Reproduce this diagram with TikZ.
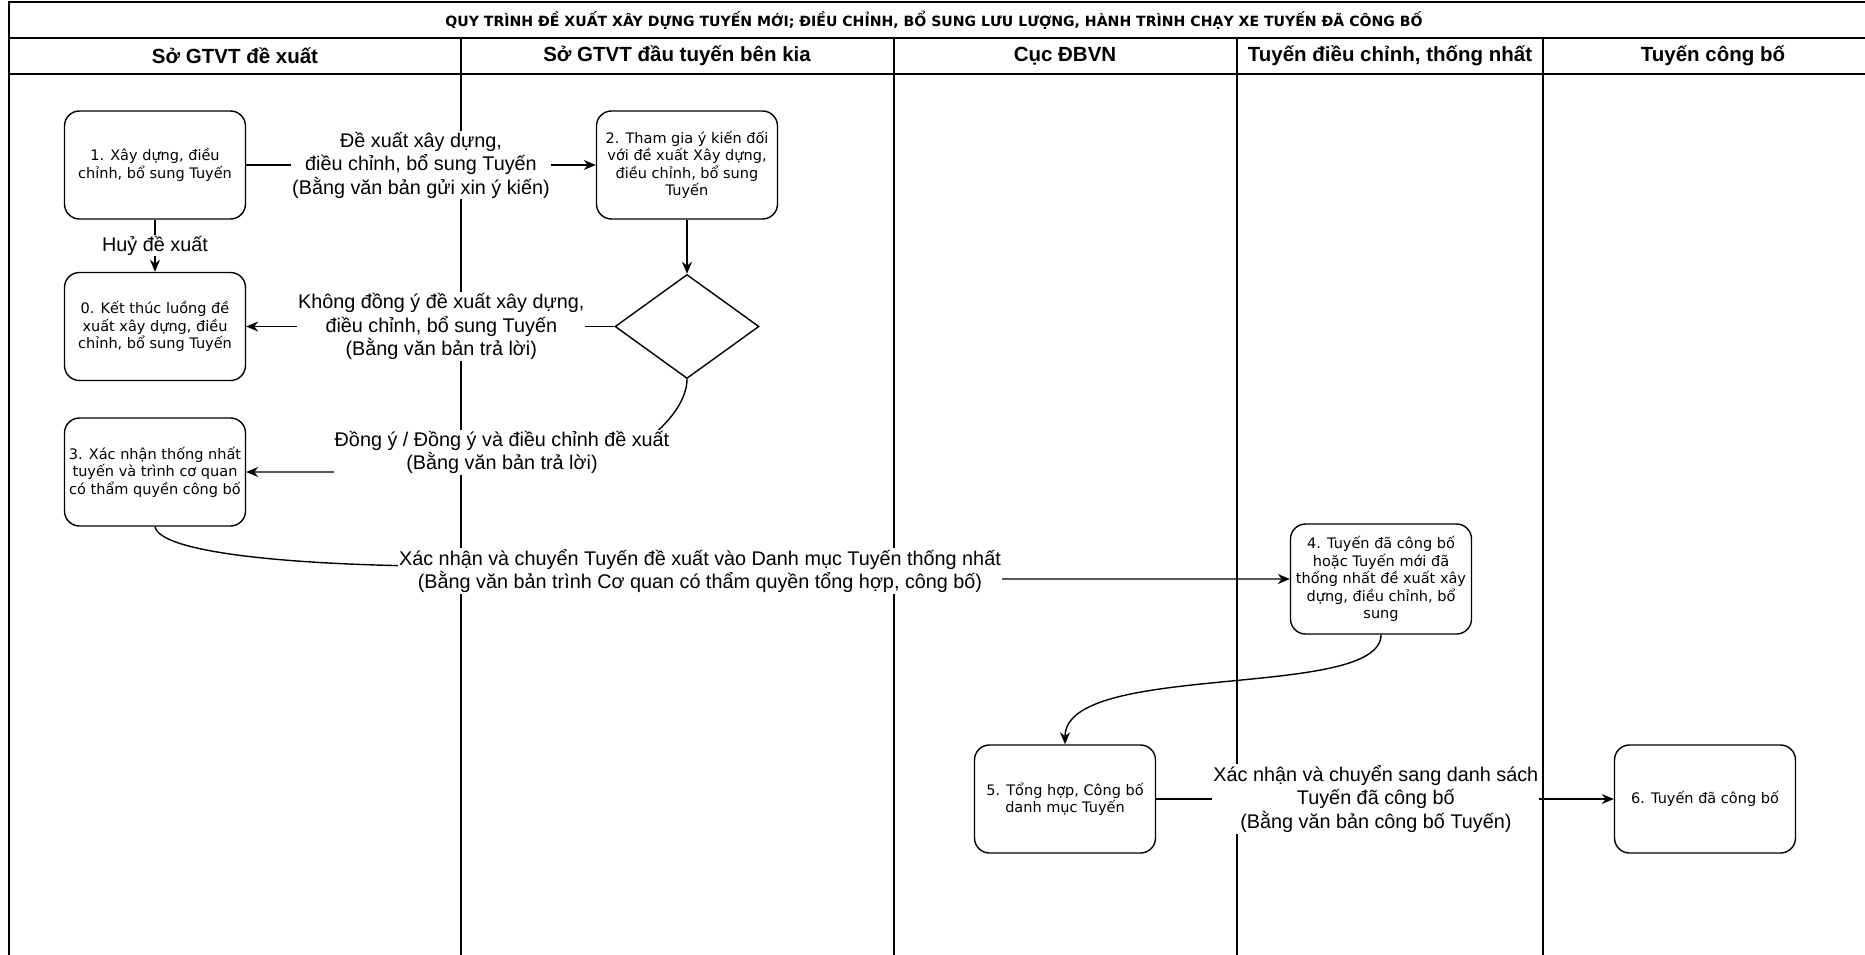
\documentclass[tikz,border=0pt]{standalone}
\usepackage{fontspec}
\setmainfont{Liberation Sans}
\newfontfamily\boxfont{DejaVu Sans}
\usepackage{tikz}
\usetikzlibrary{shapes.geometric}
\usetikzlibrary{arrows.meta}

\begin{document}
\begin{tikzpicture}[x=1pt, y=-1pt,
    proc/.style={draw=black, line width=1.4pt, rounded corners=15pt, fill=white, minimum width=181pt, minimum height=108pt, align=center, inner sep=3pt, font=\boxfont\fontsize{14.5}{17.5}\selectfont},
    lbl/.style={fill=white, align=center, inner sep=1pt, font=\fontsize{19.8}{23.5}\selectfont},
    hdr/.style={font=\bfseries\fontsize{20.5}{24}\selectfont},
    arr/.style={line width=1.4pt, -{Stealth[length=12pt, width=10pt]}},
    lane/.style={line width=1.4pt}]
  \useasboundingbox (0,0) rectangle (1865,955);
  \clip (0,0) rectangle (1865,955);
  \fill[white] (0,0) rectangle (1865,955);
  \draw[lane] (1890,2) -- (9,2) -- (9,960);
  \draw[lane] (9,38) -- (1890,38);
  \draw[lane] (9,74) -- (1890,74);
  \foreach \x in {461,894,1237,1543} {
    \draw[lane] (\x,38) -- (\x,960);
  }
  \node[font=\boxfont\bfseries\fontsize{14.1}{16}\selectfont] (title) at (934,20) {QUY TRÌNH ĐỀ XUẤT XÂY DỰNG TUYẾN MỚI; ĐIỀU CHỈNH, BỔ SUNG LƯU LƯỢNG, HÀNH TRÌNH CHẠY XE TUYẾN ĐÃ CÔNG BỐ};
  \foreach \x/\t [count=\i] in {235/Sở GTVT đề xuất, 677/Sở GTVT đầu tuyến bên kia, 1065/Cục ĐBVN, 1390/{Tuyến điều chỉnh, thống nhất}, 1713/Tuyến công bố} {
    \node[hdr] (hd\i) at (\x,56) {\t};
  }

  \node[proc] (n1) at (155,165) {1. Xây dựng, điều\\chỉnh, bổ sung Tuyến};
  \node[proc] (n0) at (155,326.5) {0. Kết thúc luồng đề\\xuất xây dựng, điều\\chỉnh, bổ sung Tuyến};
  \node[proc] (n3) at (155,472) {3. Xác nhận thống nhất\\tuyến và trình cơ quan\\có thẩm quyền công bố};
  \node[proc] (n2) at (687,165) {2. Tham gia ý kiến đối\\với đề xuất Xây dựng,\\điều chỉnh, bổ sung\\Tuyến};
  \node[draw=black, line width=1.4pt, diamond, fill=white, minimum width=144pt, minimum height=104pt, inner sep=0pt] (dec) at (687,326.5) {};
  \node[proc, minimum height=110pt] (n4) at (1381,579) {4. Tuyến đã công bố\\hoặc Tuyến mới đã\\thống nhất đề xuất xây\\dựng, điều chỉnh, bổ\\sung};
  \node[proc] (n5) at (1065,799) {5. Tổng hợp, Công bố\\danh mục Tuyến};
  \node[proc] (n6) at (1705,799) {6. Tuyến đã công bố};

  \draw[arr] (n1) -- node[lbl] (l1) {Đề xuất xây dựng,\\điều chỉnh, bổ sung Tuyến\\(Bằng văn bản gửi xin ý kiến)} (n2);
  \draw[arr] (n1) -- node[lbl] (l0) {Huỷ đề xuất} (n0);
  \draw[arr] (n2) -- (dec);
  \draw[arr] (dec) -- node[lbl, pos=0.47] (l2) {Không đồng ý đề xuất xây dựng,\\điều chỉnh, bổ sung Tuyến\\(Bằng văn bản trả lời)} (n0);
  \coordinate (c3) at (560,472);
  \draw[arr] (dec.south) .. controls +(0,40) and +(60,0) .. (c3) -- (n3.east);
  \node[lbl] (l3) at (502,452.5) {Đồng ý / Đồng ý và điều chỉnh đề xuất\\(Bằng văn bản trả lời)};
  \coordinate (c4) at (420,566);
  \draw[arr] (n3.south) .. controls +(5,25) and +(-140,-2) .. (c4) |- (n4.west);
  \node[lbl] (l4) at (700,571) {Xác nhận và chuyển Tuyến đề xuất vào Danh mục Tuyến thống nhất\\(Bằng văn bản trình Cơ quan có thẩm quyền tổng hợp, công bố)};
  \draw[arr] (n4.south) .. controls +(0,66) and +(0,-84) .. (n5.north);
  \draw[arr] (n5) -- node[lbl, pos=0.48] (l6) {Xác nhận và chuyển sang danh sách\\Tuyến đã công bố\\(Bằng văn bản công bố Tuyến)} (n6);
\end{tikzpicture}
\end{document}
